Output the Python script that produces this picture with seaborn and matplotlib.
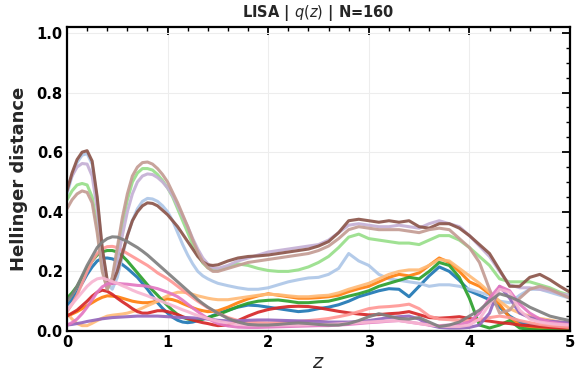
import numpy as np
import pandas as pd
import matplotlib
matplotlib.use("Agg")
import matplotlib.pyplot as plt
from matplotlib.ticker import MultipleLocator
import seaborn as sns

# z grid: 0.05 steps up to 1.5, then 0.1 steps up to 5.0
z = [round(0.05 * i, 2) for i in range(31)] + [round(1.6 + 0.1 * i, 1) for i in range(35)]

blue = [0.087,0.105,0.13,0.16,0.19,0.215,0.235,0.244,0.245,0.242,
        0.235,0.223,0.21,0.195,0.18,0.16,0.14,0.117,0.095,0.076,
        0.06,0.046,0.036,0.03,0.028,0.03,0.035,0.04,0.045,0.052,0.058,
        0.07,0.08,0.087,0.085,
        0.08,0.075,0.07,0.065,0.068,0.075,0.08,0.088,0.1,0.115,
        0.125,0.135,0.142,0.14,0.115,0.15,0.185,0.215,0.2,0.17,
        0.135,0.12,0.105,0.08,0.05,0.03,0.02,0.015,0.012,0.01,
        0.01]
light_blue = [0.46,0.52,0.565,0.59,0.595,0.56,0.44,0.27,0.16,0.14,
              0.18,0.25,0.32,0.37,0.41,0.435,0.445,0.443,0.435,0.42,
              0.40,0.37,0.33,0.29,0.255,0.225,0.20,0.185,0.175,0.167,0.16,
              0.152,0.145,0.14,0.14,
              0.145,0.155,0.165,0.172,0.178,0.18,0.19,0.21,0.26,0.235,
              0.22,0.19,0.175,0.17,0.165,0.16,0.15,0.155,0.155,0.15,
              0.14,0.13,0.12,0.10,0.095,0.12,0.14,0.14,0.13,0.12,
              0.11]
orange = [0.05,0.057,0.065,0.075,0.085,0.095,0.105,0.113,0.118,0.117,
          0.115,0.11,0.105,0.1,0.097,0.095,0.095,0.097,0.1,0.105,
          0.108,0.105,0.1,0.092,0.085,0.078,0.072,0.068,0.065,0.066,0.068,
          0.08,0.095,0.108,0.118,
          0.125,0.12,0.115,0.11,0.11,0.112,0.115,0.12,0.132,0.142,
          0.15,0.165,0.18,0.19,0.185,0.195,0.22,0.245,0.23,0.2,
          0.165,0.15,0.125,0.09,0.045,0.02,0.012,0.01,0.008,0.007,
          0.006]
light_orange = [0.06,0.04,0.025,0.018,0.018,0.026,0.035,0.043,0.05,0.053,
                0.055,0.057,0.06,0.065,0.07,0.077,0.085,0.092,0.1,0.11,
                0.118,0.125,0.13,0.13,0.128,0.123,0.118,0.114,0.11,0.107,0.105,
                0.105,0.11,0.115,0.12,
                0.123,0.122,0.118,0.115,0.115,0.118,0.12,0.128,0.14,0.15,
                0.16,0.175,0.19,0.2,0.205,0.205,0.22,0.24,0.235,0.21,
                0.185,0.16,0.13,0.10,0.075,0.06,0.05,0.042,0.037,0.03,
                0.027]
green = [0.11,0.128,0.15,0.18,0.21,0.235,0.255,0.266,0.27,0.27,
         0.265,0.252,0.235,0.215,0.195,0.175,0.155,0.137,0.12,0.102,
         0.085,0.069,0.055,0.046,0.04,0.037,0.037,0.04,0.045,0.05,0.055,
         0.068,0.082,0.093,0.1,
         0.103,0.104,0.1,0.095,0.095,0.098,0.1,0.108,0.117,0.125,
         0.135,0.15,0.16,0.17,0.18,0.175,0.2,0.23,0.22,0.18,
         0.11,0.02,0.01,0.02,0.035,0.01,0.005,0.003,0.002,0.002,
         0.002]
light_green = [0.44,0.47,0.49,0.495,0.49,0.45,0.35,0.21,0.14,0.17,
               0.26,0.36,0.44,0.50,0.53,0.545,0.545,0.54,0.525,0.505,
               0.48,0.45,0.41,0.37,0.33,0.29,0.255,0.228,0.212,0.205,0.205,
               0.215,0.225,0.22,0.21,
               0.203,0.2,0.2,0.205,0.215,0.23,0.25,0.28,0.315,0.325,
               0.31,0.305,0.3,0.295,0.295,0.29,0.305,0.32,0.32,0.305,
               0.28,0.25,0.22,0.175,0.165,0.165,0.165,0.155,0.145,0.13,
               0.12]
red = [0.05,0.06,0.07,0.085,0.1,0.117,0.13,0.137,0.133,0.123,
       0.11,0.098,0.087,0.075,0.065,0.06,0.06,0.064,0.068,0.068,
       0.065,0.06,0.055,0.048,0.042,0.037,0.032,0.028,0.025,0.021,0.018,
       0.02,0.035,0.05,0.063,
       0.072,0.078,0.082,0.083,0.082,0.078,0.072,0.066,0.061,0.057,
       0.054,0.055,0.058,0.06,0.065,0.055,0.045,0.043,0.045,0.048,
       0.042,0.037,0.033,0.028,0.025,0.02,0.018,0.015,0.012,0.01,
       0.01]
light_red = [0.065,0.09,0.12,0.16,0.2,0.235,0.26,0.276,0.283,0.284,
             0.28,0.27,0.26,0.25,0.24,0.23,0.22,0.208,0.195,0.185,
             0.175,0.163,0.15,0.137,0.125,0.112,0.1,0.089,0.078,0.069,0.06,
             0.045,0.035,0.03,0.028,
             0.027,0.028,0.03,0.032,0.035,0.038,0.042,0.048,0.055,0.065,
             0.075,0.08,0.082,0.085,0.09,0.075,0.05,0.04,0.038,0.035,
             0.035,0.038,0.045,0.05,0.045,0.035,0.028,0.022,0.018,0.015,
             0.012]
purple = [0.02,0.022,0.025,0.028,0.032,0.035,0.038,0.041,0.043,0.045,
          0.046,0.047,0.048,0.049,0.05,0.05,0.05,0.05,0.05,0.049,
          0.048,0.047,0.046,0.045,0.045,0.044,0.043,0.042,0.04,0.038,0.036,
          0.034,0.034,0.036,0.037,
          0.037,0.036,0.035,0.034,0.033,0.032,0.03,0.03,0.03,0.032,
          0.035,0.04,0.045,0.048,0.05,0.04,0.02,0.012,0.01,0.01,
          0.012,0.02,0.06,0.15,0.11,0.06,0.045,0.038,0.033,0.03,
          0.028]
light_purple = [0.48,0.52,0.55,0.562,0.56,0.52,0.41,0.25,0.15,0.16,
                0.23,0.32,0.40,0.46,0.50,0.52,0.527,0.525,0.515,0.50,
                0.48,0.455,0.42,0.385,0.35,0.31,0.275,0.245,0.225,0.212,0.21,
                0.22,0.235,0.245,0.255,
                0.265,0.27,0.275,0.28,0.285,0.29,0.305,0.33,0.355,0.36,
                0.355,0.35,0.35,0.355,0.35,0.345,0.36,0.37,0.36,0.35,
                0.32,0.285,0.25,0.2,0.155,0.145,0.145,0.14,0.135,0.125,
                0.12]
brown = [0.47,0.53,0.575,0.60,0.605,0.57,0.45,0.28,0.17,0.16,
         0.20,0.26,0.32,0.37,0.40,0.42,0.43,0.428,0.42,0.405,
         0.39,0.37,0.35,0.325,0.30,0.275,0.25,0.232,0.222,0.22,0.222,
         0.235,0.245,0.25,0.252,
         0.255,0.26,0.265,0.27,0.275,0.285,0.30,0.33,0.37,0.375,
         0.37,0.365,0.37,0.365,0.37,0.35,0.345,0.36,0.36,0.345,
         0.32,0.29,0.26,0.205,0.15,0.15,0.18,0.19,0.172,0.15,
         0.13]
light_brown = [0.41,0.44,0.46,0.47,0.465,0.43,0.33,0.20,0.14,0.18,
               0.28,0.38,0.46,0.52,0.55,0.565,0.567,0.56,0.545,0.525,
               0.50,0.465,0.43,0.39,0.35,0.305,0.265,0.232,0.212,0.20,0.20,
               0.21,0.22,0.23,0.235,
               0.24,0.245,0.25,0.255,0.26,0.27,0.285,0.31,0.34,0.35,
               0.345,0.34,0.34,0.34,0.335,0.33,0.34,0.345,0.34,0.31,
               0.28,0.23,0.14,0.06,0.07,0.11,0.14,0.15,0.14,0.125,
               0.11]
pink = [0.02,0.028,0.04,0.058,0.08,0.105,0.13,0.148,0.158,0.16,
        0.16,0.158,0.157,0.155,0.153,0.152,0.15,0.146,0.142,0.136,
        0.13,0.123,0.115,0.103,0.09,0.077,0.065,0.053,0.042,0.033,0.025,
        0.017,0.013,0.012,0.012,
        0.013,0.014,0.015,0.016,0.017,0.018,0.018,0.02,0.022,0.025,
        0.028,0.03,0.033,0.035,0.03,0.025,0.02,0.018,0.02,0.022,
        0.03,0.06,0.11,0.15,0.135,0.09,0.06,0.04,0.03,0.025,
        0.02]
light_pink = [0.07,0.09,0.11,0.13,0.15,0.165,0.175,0.178,0.172,0.166,
              0.16,0.152,0.145,0.137,0.13,0.124,0.118,0.111,0.105,0.098,
              0.092,0.085,0.078,0.071,0.065,0.058,0.052,0.047,0.042,0.037,0.033,
              0.027,0.022,0.02,0.02,
              0.02,0.02,0.02,0.02,0.021,0.022,0.022,0.024,0.026,0.028,
              0.03,0.032,0.034,0.035,0.03,0.025,0.02,0.017,0.015,0.015,
              0.02,0.04,0.09,0.14,0.13,0.07,0.04,0.03,0.025,0.022,
              0.02]
gray = [0.1,0.12,0.15,0.185,0.22,0.25,0.28,0.298,0.31,0.316,
        0.315,0.308,0.30,0.29,0.28,0.268,0.255,0.24,0.225,0.21,
        0.195,0.18,0.165,0.15,0.135,0.12,0.105,0.092,0.08,0.07,0.06,
        0.042,0.03,0.022,0.02,
        0.02,0.022,0.025,0.027,0.025,0.022,0.02,0.02,0.025,0.035,
        0.048,0.058,0.05,0.042,0.04,0.045,0.03,0.015,0.02,0.03,
        0.05,0.07,0.1,0.125,0.115,0.1,0.08,0.065,0.05,0.042,
        0.035]

series = {
    "s00": blue, "s01": light_blue, "s02": orange, "s03": light_orange,
    "s04": green, "s05": light_green, "s06": red, "s07": light_red,
    "s08": purple, "s09": light_purple, "s10": brown, "s11": light_brown,
    "s12": pink, "s13": light_pink, "s14": gray,
}
names = list(series.keys())
rows = []
for n, vals in series.items():
    for zi, v in zip(z, vals):
        rows.append((n, zi, v))
df = pd.DataFrame(rows, columns=["series", "z", "H"])

sns.set_theme(style="white")
plt.rcParams['font.family'] = ['DejaVu Sans']

fig = plt.figure(figsize=(5.84, 3.79), dpi=100)
ax = fig.add_axes([67/584, 1 - 331/379, (570 - 67)/584, (331 - 27)/379])

pal = sns.color_palette("tab20", 20)[:15]
sns.lineplot(data=df, x="z", y="H", hue="series", hue_order=names,
             palette=pal, linewidth=2.2, alpha=0.92, legend=False,
             estimator=None, ax=ax)

ax.set_xlim(0, 5)
ax.set_ylim(0, 1.02)
ax.xaxis.set_major_locator(MultipleLocator(1))
ax.xaxis.set_minor_locator(MultipleLocator(0.2))
ax.yaxis.set_major_locator(MultipleLocator(0.2))
ax.yaxis.set_minor_locator(MultipleLocator(0.05))
ax.grid(True, which='major', color='#ededed', linewidth=0.8)
ax.set_axisbelow(True)
ax.tick_params(which='both', direction='in', top=True, right=True, colors='black')
ax.tick_params(which='major', length=6, width=1.3, labelsize=10.5, pad=3)
ax.tick_params(which='minor', length=3, width=1.0)
for lab in ax.get_xticklabels() + ax.get_yticklabels():
    lab.set_fontweight('bold')
for sp in ax.spines.values():
    sp.set_visible(True)
    sp.set_color('black')
    sp.set_linewidth(1.6)

ax.set_xlabel("$z$", fontsize=14, color='#262626', labelpad=2)
ax.set_ylabel("Hellinger distance", fontsize=13, fontweight='bold', color='#262626', labelpad=6)
ax.set_title("LISA | $q(z)$ | N=160", fontsize=10.5, fontweight='bold', color='#262626', pad=7)

fig.savefig("out.png", dpi=100)
